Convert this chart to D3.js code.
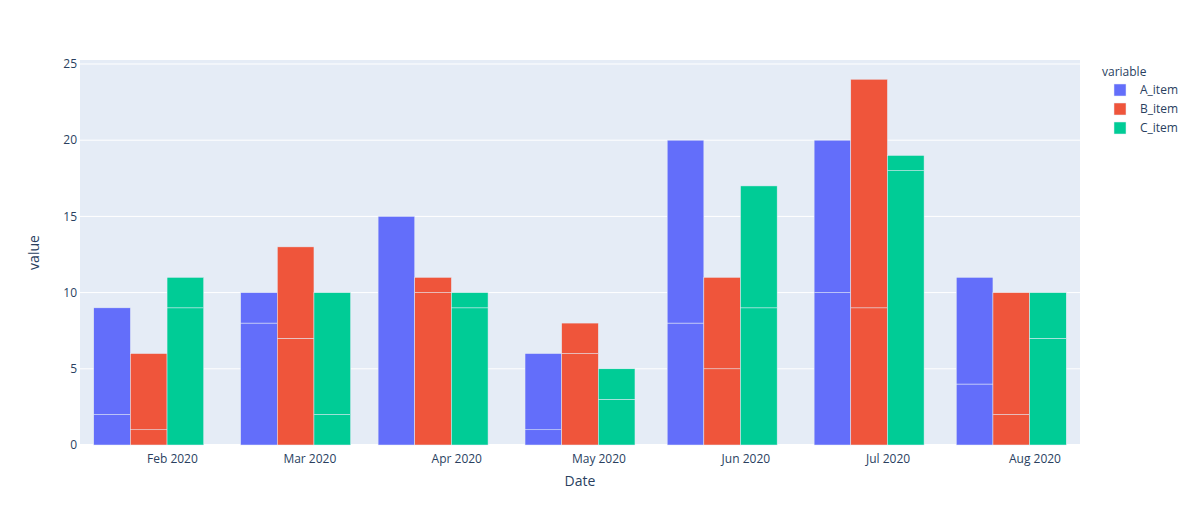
<!DOCTYPE html>
<html>
<head>
<meta charset="utf-8">
<script src="https://cdn.jsdelivr.net/npm/d3@7"></script>
<style>
  html, body { margin: 0; padding: 0; background: #fff; }
  svg { display: block; font-family: "Open Sans", verdana, arial, sans-serif; }
</style>
</head>
<body>
<svg id="chart" width="1200" height="525"></svg>
<script>
// ---- data ----
const dates = ["2020-01-27", "2020-02-27", "2020-03-27", "2020-04-27", "2020-05-27", "2020-06-27", "2020-07-27"];
const seriesNames = ["A_item", "B_item", "C_item"];
const seriesColors = ["#636efa", "#EF553B", "#00cc96"];
// each bar is made of two stacked rows (first row at the bottom)
const A_item_row1 = [2, 8, 15, 1, 8, 10, 4];
const A_item_row2 = [7, 2, 0, 5, 12, 10, 7];
const B_item_row1 = [1, 7, 10, 6, 5, 9, 2];
const B_item_row2 = [5, 6, 1, 2, 6, 15, 8];
const C_item_row1 = [9, 2, 9, 3, 9, 18, 7];
const C_item_row2 = [2, 8, 1, 2, 8, 1, 3];
const yTicks = [0, 5, 10, 15, 20, 25];

const rows = { A_item: [A_item_row1, A_item_row2], B_item: [B_item_row1, B_item_row2], C_item: [C_item_row1, C_item_row2] };

// ---- layout ----
const svg = d3.select("#chart");
const W = 1200, H = 525;
const m = { l: 80, r: 120, t: 60, b: 80 };
const pw = W - m.l - m.r, ph = H - m.t - m.b;
const parse = d3.utcParse("%Y-%m-%d");
const dd = dates.map(parse);

let minGap = Infinity;
for (let i = 1; i < dd.length; i++) minGap = Math.min(minGap, dd[i] - dd[i - 1]);

const x = d3.scaleUtc()
  .domain([new Date(dd[0].getTime() - minGap / 2), new Date(dd[dd.length - 1].getTime() + minGap / 2)])
  .range([m.l, m.l + pw]);

let maxTotal = 0;
seriesNames.forEach(s => dd.forEach((d, i) => { maxTotal = Math.max(maxTotal, rows[s][0][i] + rows[s][1][i]); }));
const y = d3.scaleLinear().domain([0, maxTotal * 1.0526]).range([m.t + ph, m.t]);

// background
svg.append("rect").attr("x", m.l).attr("y", m.t).attr("width", pw).attr("height", ph).attr("fill", "#E5ECF6");

// grid
const g = svg.append("g");
g.selectAll("line.gy").data(yTicks).join("line")
  .attr("x1", m.l).attr("x2", m.l + pw)
  .attr("y1", d => y(d)).attr("y2", d => y(d))
  .attr("stroke", "#fff").attr("stroke-width", d => d === 0 ? 2 : 1);

const monthTicks = d3.utcMonth.range(x.domain()[0], x.domain()[1]).filter(d => d > x.domain()[0]);

// bars
const groupSpan = minGap * 0.8;
const barSpan = groupSpan / seriesNames.length;
const bars = svg.append("g");
seriesNames.forEach((s, si) => {
  const segs = [];
  dd.forEach((d, i) => {
    let base = 0;
    rows[s].forEach(r => {
      const v = r[i];
      const t0 = d.getTime() - groupSpan / 2 + si * barSpan;
      segs.push({ x0: x(new Date(t0)), x1: x(new Date(t0 + barSpan)), y0: y(base), y1: y(base + v) });
      base += v;
    });
  });
  bars.selectAll(null).data(segs).join("rect")
    .attr("x", d => d.x0).attr("width", d => d.x1 - d.x0)
    .attr("y", d => d.y1).attr("height", d => d.y0 - d.y1)
    .attr("fill", seriesColors[si])
    .attr("stroke", "#E5ECF6").attr("stroke-width", 0.5);
});

// axes labels
const txt = "#2a3f5f";
svg.append("g").selectAll("text").data(yTicks).join("text")
  .attr("x", m.l - 3).attr("y", d => y(d)).attr("dy", "0.35em")
  .attr("text-anchor", "end").attr("font-size", 12).attr("fill", txt)
  .text(d => d);

const fmt = d3.utcFormat("%b %Y");
svg.append("g").selectAll("text").data(monthTicks).join("text")
  .attr("x", d => x(d)).attr("y", m.t + ph + 18)
  .attr("text-anchor", "middle").attr("font-size", 12).attr("fill", txt)
  .text(d => fmt(d));

svg.append("text").attr("x", m.l + pw / 2).attr("y", m.t + ph + 41)
  .attr("text-anchor", "middle").attr("font-size", 14).attr("fill", txt).text("Date");

svg.append("text")
  .attr("transform", `translate(39,${m.t + ph / 2}) rotate(-90)`)
  .attr("text-anchor", "middle").attr("font-size", 14).attr("fill", txt).text("value");

// legend
const lg = svg.append("g");
lg.append("text").attr("x", 1102).attr("y", 76).attr("font-size", 12).attr("fill", txt).text("variable");
seriesNames.forEach((s, i) => {
  const cy = 90 + i * 19;
  lg.append("rect").attr("x", 1114).attr("y", cy - 6).attr("width", 12).attr("height", 12)
    .attr("fill", seriesColors[i]).attr("stroke", "#E5ECF6").attr("stroke-width", 0.5);
  lg.append("text").attr("x", 1140).attr("y", cy).attr("dy", "0.35em")
    .attr("font-size", 12).attr("fill", txt).text(s);
});
</script>
</body>
</html>
